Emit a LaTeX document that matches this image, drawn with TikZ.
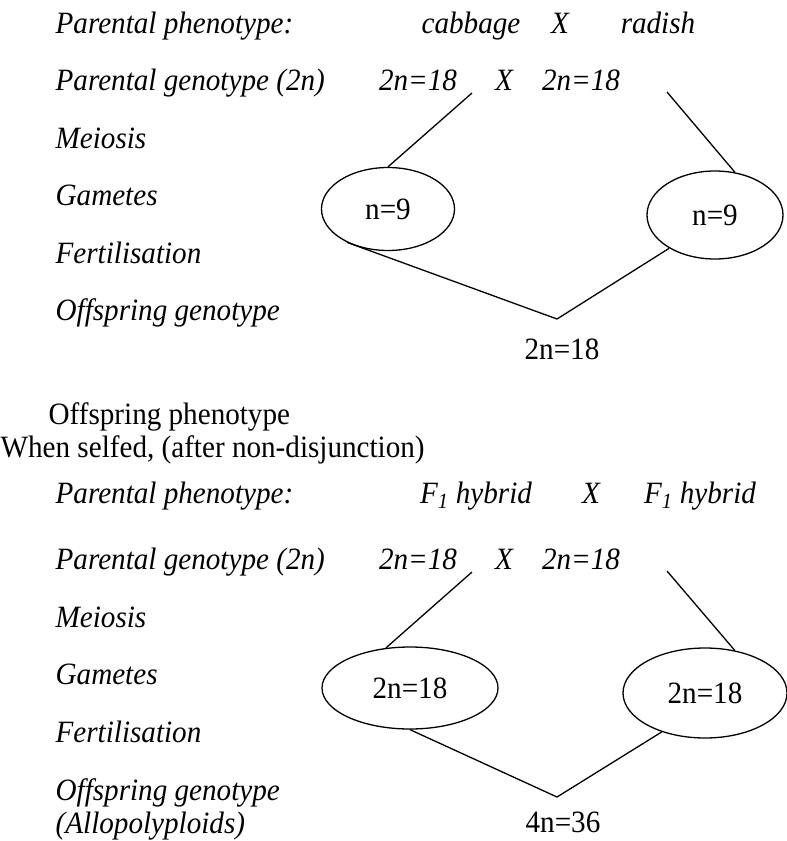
\documentclass[tikz,border=0pt]{standalone}
\usepackage{fontspec}
\setmainfont[FakeStretch=0.94]{Liberation Serif}
\usetikzlibrary{shapes.geometric}

\begin{document}
\begin{tikzpicture}[x=1pt, y=-1pt, line width=1.3pt,
    every node/.style={inner sep=0pt, font=\fontsize{31}{35}\selectfont},
    rowlabel/.style={anchor=base west, font=\fontsize{31}{35}\selectfont\itshape},
    crosslabel/.style={anchor=base, font=\fontsize{31}{35}\selectfont\itshape},
    plainlabel/.style={anchor=base west},
    gamete/.style={draw, ellipse, line width=1.3pt}]
    \useasboundingbox (0,0) rectangle (787,841);

    % Primer cruce: cabbage X radish
    \node[rowlabel]   (pp1)  at (55,33)  {Parental phenotype:};
    \node[crosslabel] (cab)  at (471,33) {cabbage};
    \node[crosslabel] (xp1)  at (560,33) {X};
    \node[crosslabel] (rad)  at (658,33) {radish};

    \node[rowlabel]   (pg1)  at (55,90)   {Parental genotype (2n)};
    \node[crosslabel] (gA1)  at (418,90)  {2n=18};
    \node[crosslabel] (xg1)  at (504,90)  {X};
    \node[crosslabel] (gB1)  at (581,90)  {2n=18};

    \node[rowlabel] (mei1) at (55,148) {Meiosis};
    \node[rowlabel] (gam1) at (55,205) {Gametes};
    \node[rowlabel] (fer1) at (55,263) {Fertilisation};
    \node[rowlabel] (off1) at (55,320) {Offspring genotype};

    \coordinate (tA1) at (472,93);   % bajo 2n=18 (izq.)
    \coordinate (tB1) at (667,92);   % bajo 2n=18 (der.)
    \coordinate (v1)  at (557,319);  % vertice de la fecundacion

    \node[gamete, minimum width=133pt, minimum height=83pt] (eA1) at (388,209) {n=9};
    \node[gamete, minimum width=136pt, minimum height=88pt] (eB1) at (715,215) {n=9};

    \draw (tA1) -- (eA1.north);
    \draw (tB1) -- (eB1.65);
    \draw (eA1.219) -- (v1) -- (eB1.216);

    \node[anchor=base] (kid1) at (562,359) {2n=18};

    \node[plainlabel] (oph) at (48,424) {Offspring phenotype};
    \node[plainlabel] (self) at (0,457) {When selfed, (after non-disjunction)};

    % Segundo cruce: F1 hybrid X F1 hybrid
    \node[rowlabel]   (pp2)  at (55,503)  {Parental phenotype:};
    \node[crosslabel] (hA)   at (476,503) {F\textsubscript{1} hybrid};
    \node[crosslabel] (xp2)  at (591,503) {X};
    \node[crosslabel] (hB)   at (700,503) {F\textsubscript{1} hybrid};

    \node[rowlabel]   (pg2)  at (55,569)  {Parental genotype (2n)};
    \node[crosslabel] (gA2)  at (418,569) {2n=18};
    \node[crosslabel] (xg2)  at (504,569) {X};
    \node[crosslabel] (gB2)  at (581,569) {2n=18};

    \node[rowlabel] (mei2) at (55,627) {Meiosis};
    \node[rowlabel] (gam2) at (55,684) {Gametes};
    \node[rowlabel] (fer2) at (55,742) {Fertilisation};
    \node[rowlabel] (off2) at (55,800) {Offspring genotype};
    \node[rowlabel] (allo) at (55,833) {(Allopolyploids)};

    \coordinate (tA2) at (472,572);
    \coordinate (tB2) at (667,571);
    \coordinate (v2)  at (557,797);

    \node[gamete, minimum width=176pt, minimum height=82pt] (eA2) at (410,688) {2n=18};
    \node[gamete, minimum width=164pt, minimum height=90pt] (eB2) at (705,693) {2n=18};

    \draw (tA2) -- (eA2.121);
    \draw (tB2) -- (eB2.55);
    \draw (eA2.south) -- (v2) -- (eB2.222);

    \node[anchor=base] (kid2) at (563,832) {4n=36};
\end{tikzpicture}
\end{document}
